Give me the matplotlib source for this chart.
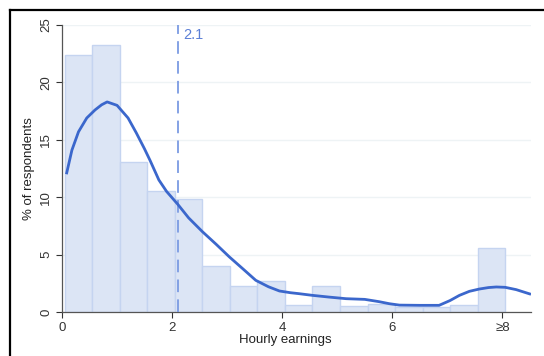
import matplotlib
matplotlib.use("Agg")
import matplotlib.pyplot as plt
from matplotlib.lines import Line2D

plt.rcParams['font.family'] = ['Liberation Sans', 'DejaVu Sans']

# Histogram bins (left edges), width 0.5
bin_lefts = [0.05, 0.55, 1.05, 1.55, 2.05, 2.55, 3.05, 3.55, 4.05, 4.55, 5.05, 5.55, 6.05, 6.55, 7.05, 7.55]
bin_heights = [22.4, 23.3, 13.1, 10.5, 9.8, 4.0, 2.3, 2.7, 0.65, 2.3, 0.5, 0.7, 0.4, 0.4, 0.65, 5.6]
bin_width = 0.5

# Density curve points
kde_x = [0.08, 0.18, 0.3, 0.45, 0.6, 0.72, 0.82, 1.0, 1.2, 1.35, 1.5, 1.6, 1.76, 1.9, 2.1, 2.3,
         2.55, 2.8, 3.04, 3.3, 3.52, 3.75, 3.95, 4.15, 4.3, 4.55, 4.85, 5.16, 5.5, 5.76, 5.95,
         6.13, 6.5, 6.85, 7.05, 7.22, 7.4, 7.58, 7.75, 7.89, 8.05, 8.25, 8.52]
kde_y = [12.0, 14.1, 15.7, 16.9, 17.6, 18.05, 18.3, 18.0, 16.9, 15.6, 14.2, 13.2, 11.5, 10.5,
         9.4, 8.2, 7.0, 5.9, 4.8, 3.7, 2.76, 2.2, 1.83, 1.68, 1.6, 1.45, 1.3, 1.16, 1.1, 0.9,
         0.72, 0.6, 0.58, 0.58, 1.0, 1.45, 1.8, 2.0, 2.13, 2.18, 2.15, 1.95, 1.54]

median_value = 2.1
x_ticks = [0, 2, 4, 6, 8]
x_ticklabels = ["0", "2", "4", "6", "≥8"]
y_ticks = [0, 5, 10, 15, 20, 25]

fig = plt.figure(figsize=(5.44, 3.56), dpi=100)
ax = fig.add_axes([62/544, 44/356, (531-62)/544, (312-25)/356])

ax.bar(bin_lefts, bin_heights, width=bin_width, align='edge',
       color='#dce5f5', edgecolor='#c5d4f0', linewidth=1.0, zorder=2)
ax.plot(kde_x, kde_y, color='#3b67cc', linewidth=2.0, zorder=4,
        solid_capstyle='butt', solid_joinstyle='round')
ax.axvline(median_value, ymin=0, ymax=1, color='#7b9be3', linewidth=1.3,
           linestyle=(0, (7, 4)), zorder=3)
ax.text(median_value + 0.1, 24.7, "2.1", color='#5b7fd6', fontsize=10.5, va='top', ha='left')

ax.set_xlim(0, 8.52)
ax.set_ylim(0, 25)
ax.set_xticks(x_ticks)
ax.set_xticklabels(x_ticklabels)
ax.set_yticks(y_ticks)
ax.set_yticklabels([str(v) for v in y_ticks], rotation=90, va='center')
ax.tick_params(axis='both', labelsize=9.5, colors='#333333', length=4, width=0.8, direction='out')
ax.tick_params(axis='x', pad=3)
ax.tick_params(axis='y', pad=3)
ax.grid(axis='y', color='#eef3f5', linewidth=1.0, zorder=0)
ax.set_axisbelow(True)
for s in ['top', 'right']:
    ax.spines[s].set_visible(False)
for s in ['left', 'bottom']:
    ax.spines[s].set_color('#555555')
    ax.spines[s].set_linewidth(0.9)

ax.set_xlabel("Hourly earnings", fontsize=9.5, color='#222222', labelpad=0)
ax.xaxis.set_label_coords((285-62)/469, -0.076)
ax.xaxis.label.set_va('top')
ax.set_ylabel("% of respondents", fontsize=9.5, color='#222222', labelpad=4)

# Outer frame (black border at left and top)
fig.add_artist(Line2D([9.5/544, 9.5/544], [0, 1 - 9.5/356], transform=fig.transFigure,
                      color='black', linewidth=1.6))
fig.add_artist(Line2D([9.5/544, 1], [1 - 9.5/356, 1 - 9.5/356], transform=fig.transFigure,
                      color='black', linewidth=1.6))

fig.savefig("out.png", dpi=100)
